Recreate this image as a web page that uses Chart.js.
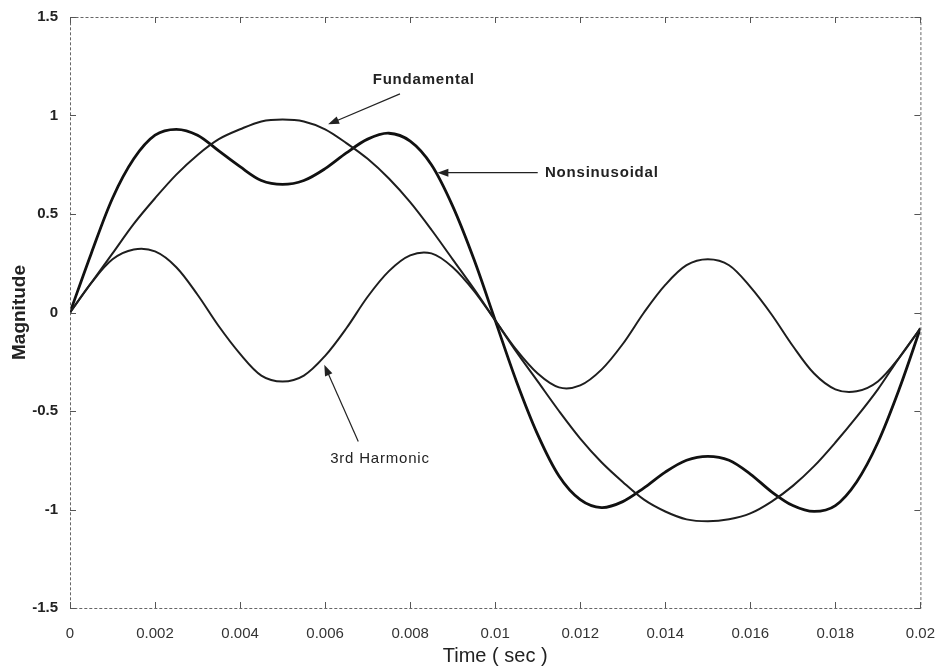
<!DOCTYPE html>
<html>
<head>
<meta charset="utf-8">
<script src="https://cdn.jsdelivr.net/npm/chart.js@4.4.1/dist/chart.umd.min.js"></script>
<style>
  html, body { margin: 0; padding: 0; background: #fff; }
  #wrap { width: 944px; height: 672px; }
</style>
</head>
<body>
<div id="wrap"><canvas id="wave-chart" width="944" height="672"></canvas></div>
<script>
// time samples, every 0.0005 s over one 50 Hz period
const timeSec = [
  0, 0.0005, 0.001, 0.0015, 0.002, 0.0025, 0.003, 0.0035, 0.004, 0.0045,
  0.005, 0.0055, 0.006, 0.0065, 0.007, 0.0075, 0.008, 0.0085, 0.009, 0.0095,
  0.01, 0.0105, 0.011, 0.0115, 0.012, 0.0125, 0.013, 0.0135, 0.014, 0.0145,
  0.015, 0.0155, 0.016, 0.0165, 0.017, 0.0175, 0.018, 0.0185, 0.019, 0.0195, 0.02
];

// values
const fundamental = [
  0, 0.15, 0.30, 0.45, 0.58, 0.70, 0.80, 0.88, 0.93, 0.97,
  0.98, 0.97, 0.93, 0.86, 0.78, 0.68, 0.56, 0.42, 0.27, 0.12,
  -0.04, -0.20, -0.35, -0.50, -0.64, -0.76, -0.86, -0.95, -1.01, -1.05,
  -1.06, -1.05, -1.02, -0.96, -0.88, -0.78, -0.66, -0.53, -0.39, -0.23, -0.08
];
const thirdHarmonic = [
  0, 0.15, 0.27, 0.32, 0.31, 0.23, 0.09, -0.07, -0.21, -0.32,
  -0.35, -0.32, -0.22, -0.08, 0.08, 0.21, 0.29, 0.30, 0.23, 0.11,
  -0.04, -0.19, -0.31, -0.38, -0.37, -0.29, -0.16, 0.00, 0.14, 0.24,
  0.27, 0.24, 0.13, -0.01, -0.17, -0.31, -0.39, -0.40, -0.35, -0.23, -0.08
];
const nonsinusoidal = [
  0, 0.30, 0.58, 0.78, 0.90, 0.93, 0.90, 0.82, 0.74, 0.67,
  0.65, 0.67, 0.73, 0.81, 0.88, 0.91, 0.87, 0.75, 0.54, 0.27,
  -0.04, -0.35, -0.62, -0.83, -0.95, -0.99, -0.96, -0.89, -0.81, -0.75,
  -0.73, -0.75, -0.82, -0.91, -0.98, -1.01, -0.98, -0.86, -0.66, -0.39, -0.08
];

const xTicks = [0, 0.002, 0.004, 0.006, 0.008, 0.01, 0.012, 0.014, 0.016, 0.018, 0.02];
const xTickLabels = ['0', '0.002', '0.004', '0.006', '0.008', '0.01', '0.012', '0.014', '0.016', '0.018', '0.02'];
const yTicks = [-1.5, -1, -0.5, 0, 0.5, 1, 1.5];
const yTickLabels = ['-1.5', '-1', '-0.5', '0', '0.5', '1', '1.5'];

// callouts: [text, textX, textY, align, bold, arrowFromX, arrowFromY, arrowTipX, arrowTipY] in data units
const callouts = [
  ['Fundamental', 0.00832, 1.18, 'center', true, 0.00776, 1.11, 0.00607, 0.955],
  ['Nonsinusoidal', 0.01117, 0.71, 'left', true, 0.0110, 0.71, 0.00864, 0.71],
  ['3rd Harmonic', 0.00729, -0.745, 'center', false, 0.00678, -0.655, 0.00598, -0.265]
];

const FONT = '"Liberation Sans", Arial, sans-serif';

function toPoints(values) {
  return values.map((v, i) => ({ x: timeSec[i], y: v }));
}

const frame = {
  id: 'frame',
  afterDraw(chart) {
    const ctx = chart.ctx;
    const a = chart.chartArea;
    const xs = chart.scales.x;
    const ys = chart.scales.y;
    ctx.save();
    // matlab style box
    ctx.strokeStyle = '#666';
    ctx.lineWidth = 1;
    ctx.setLineDash([3, 2]);
    ctx.strokeRect(a.left + 0.5, a.top + 0.5, a.right - a.left, a.bottom - a.top);
    ctx.setLineDash([]);
    ctx.strokeStyle = '#555';
    ctx.beginPath();
    xTicks.forEach(t => {
      const px = Math.round(xs.getPixelForValue(t)) + 0.5;
      ctx.moveTo(px, a.bottom); ctx.lineTo(px, a.bottom - 6);
      ctx.moveTo(px, a.top); ctx.lineTo(px, a.top + 6);
    });
    yTicks.forEach(v => {
      const py = Math.round(ys.getPixelForValue(v)) + 0.5;
      ctx.moveTo(a.left, py); ctx.lineTo(a.left + 6, py);
      ctx.moveTo(a.right, py); ctx.lineTo(a.right - 6, py);
    });
    ctx.stroke();

    // callouts with arrows
    callouts.forEach(c => {
      const [text, tx, ty, align, bold, fx, fy, hx, hy] = c;
      ctx.fillStyle = '#222';
      ctx.font = (bold ? 'bold ' : '') + '15px ' + FONT;
      ctx.letterSpacing = '0.8px';
      ctx.textAlign = align;
      ctx.textBaseline = 'middle';
      ctx.fillText(text, xs.getPixelForValue(tx), ys.getPixelForValue(ty));
      ctx.letterSpacing = '0px';

      const x1 = xs.getPixelForValue(fx), y1 = ys.getPixelForValue(fy);
      const x2 = xs.getPixelForValue(hx), y2 = ys.getPixelForValue(hy);
      const ang = Math.atan2(y2 - y1, x2 - x1);
      ctx.strokeStyle = '#222';
      ctx.lineWidth = 1.2;
      ctx.beginPath();
      ctx.moveTo(x1, y1);
      ctx.lineTo(x2 - 8 * Math.cos(ang), y2 - 8 * Math.sin(ang));
      ctx.stroke();
      ctx.beginPath();
      ctx.moveTo(x2, y2);
      ctx.lineTo(x2 - 11 * Math.cos(ang) + 4 * Math.sin(ang), y2 - 11 * Math.sin(ang) - 4 * Math.cos(ang));
      ctx.lineTo(x2 - 11 * Math.cos(ang) - 4 * Math.sin(ang), y2 - 11 * Math.sin(ang) + 4 * Math.cos(ang));
      ctx.closePath();
      ctx.fillStyle = '#222';
      ctx.fill();
    });
    ctx.restore();
  }
};

new Chart(document.getElementById('wave-chart'), {
  type: 'line',
  data: {
    datasets: [
      { label: 'Fundamental', data: toPoints(fundamental), borderColor: '#1e1e1e', borderWidth: 2, tension: 0.33 },
      { label: '3rd Harmonic', data: toPoints(thirdHarmonic), borderColor: '#1e1e1e', borderWidth: 2, tension: 0.33 },
      { label: 'Nonsinusoidal', data: toPoints(nonsinusoidal), borderColor: '#111', borderWidth: 2.8, tension: 0.33 }
    ]
  },
  options: {
    responsive: false,
    animation: false,
    layout: { padding: { left: 8, right: 18, top: 17, bottom: 0 } },
    elements: { point: { radius: 0 } },
    plugins: { legend: { display: false }, tooltip: { enabled: false } },
    scales: {
      x: {
        type: 'linear',
        min: 0,
        max: 0.02,
        afterBuildTicks: (scale) => { scale.ticks = xTicks.map(v => ({ value: v })); },
        afterFit: (scale) => { scale.height = 64; },
        border: { display: false },
        grid: { display: false },
        ticks: {
          padding: 9,
          color: '#333',
          font: { family: FONT, size: 15 },
          maxRotation: 0,
          callback: (v, i) => xTickLabels[i]
        },
        title: {
          display: true,
          text: 'Time ( sec )',
          color: '#222',
          font: { family: FONT, size: 20 },
          padding: { top: 0, bottom: 4 }
        }
      },
      y: {
        min: -1.5,
        max: 1.5,
        afterBuildTicks: (scale) => { scale.ticks = yTicks.map(v => ({ value: v })); },
        afterFit: (scale) => { scale.width = 62; },
        border: { display: false },
        grid: { display: false },
        ticks: {
          padding: 4,
          color: '#222',
          font: { family: FONT, size: 15, weight: 'bold' },
          callback: (v, i) => yTickLabels[i]
        },
        title: {
          display: true,
          text: 'Magnitude',
          color: '#222',
          font: { family: FONT, size: 19, weight: 'bold' },
          padding: { top: 0, bottom: 0 }
        }
      }
    }
  },
  plugins: [frame]
});
</script>
</body>
</html>
